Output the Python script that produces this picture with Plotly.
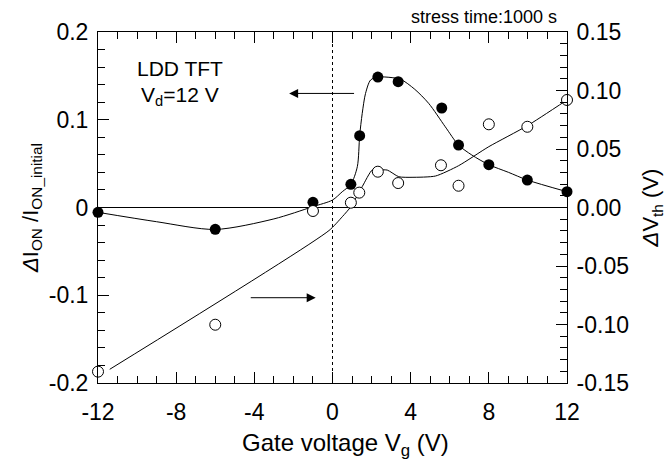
import plotly.graph_objects as go

# Measured data (filled: left axis dI_ON/I_ON_initial, open: right axis dVth)
vg_filled = [-12, -6, -1.0, 0.94, 1.39, 2.32, 3.36, 5.59, 6.45, 8.0, 9.97, 12]
di_on = [-0.0055, -0.0249, 0.0059, 0.0264, 0.0818, 0.1487, 0.1434, 0.1134, 0.0712, 0.0488, 0.0313, 0.018]

vg_open = [-12, -6, -1.0, 0.94, 1.37, 2.32, 3.36, 5.55, 6.45, 8.0, 9.97, 12]
dvth = [-0.1403, -0.1002, -0.003, 0.0041, 0.0127, 0.0306, 0.0209, 0.0361, 0.0186, 0.0711, 0.069, 0.0919]

# Fitted guide curves
fit_filled_x = [-12, -9, -6, -3, -1, 0, 0.5, 0.94, 1.27, 1.39, 1.52, 1.69, 1.95, 2.32, 3.05, 3.5, 4.21, 4.92, 5.77, 6.45, 7.13, 8.0, 9.0, 9.97, 12]
fit_filled_y = [-0.0055, -0.0162, -0.025, -0.013, 0.001, 0.0085, 0.018, 0.0264, 0.0465, 0.0818, 0.107, 0.130, 0.1453, 0.1487, 0.148, 0.146, 0.1347, 0.1187, 0.092, 0.0712, 0.0598, 0.0488, 0.0401, 0.0313, 0.018]

fit_open_x = [-11.4, -0.18, 0.5, 0.94, 1.52, 2.03, 2.32, 2.8, 3.39, 4.07, 5.27, 6.45, 8.0, 9.97, 12]
fit_open_y = [-0.1383, -0.0197, -0.0079, 0.0007, 0.0178, 0.032, 0.032, 0.032, 0.0263, 0.0258, 0.0269, 0.0357, 0.052, 0.0699, 0.0919]

x_ticks = [-12, -8, -4, 0, 4, 8, 12]
x_ticktext = ["-12", "-8", "-4", "0", "4", "8", "12"]
y_ticks = [-0.2, -0.1, 0, 0.1, 0.2]
y_ticktext = ["-0.2", "-0.1", "0", "0.1", "0.2"]
y2_ticks = [-0.15, -0.10, -0.05, 0.00, 0.05, 0.10, 0.15]
y2_ticktext = ["-0.15", "-0.10", "-0.05", "0.00", "0.05", "0.10", "0.15"]

FONT = "Liberation Sans, Arial, sans-serif"
TICKF = 23

fig = go.Figure()

fig.add_trace(go.Scatter(x=fit_filled_x, y=fit_filled_y, mode="lines",
                         line=dict(color="black", width=1, shape="spline", smoothing=0.8),
                         showlegend=False, hoverinfo="skip"))
fig.add_trace(go.Scatter(x=fit_open_x, y=fit_open_y, mode="lines", yaxis="y2",
                         line=dict(color="black", width=1, shape="spline", smoothing=0.6),
                         showlegend=False, hoverinfo="skip"))
fig.add_trace(go.Scatter(x=vg_filled, y=di_on, mode="markers", cliponaxis=False,
                         marker=dict(symbol="circle", size=11, color="black"),
                         showlegend=False))
fig.add_trace(go.Scatter(x=vg_open, y=dvth, mode="markers", yaxis="y2", cliponaxis=False,
                         marker=dict(symbol="circle", size=11, color="white",
                                     line=dict(color="black", width=1)),
                         showlegend=False))
# invisible trace to activate the top mirror axis
fig.add_trace(go.Scatter(x=[-12, 12], y=[0, 0], xaxis="x2", mode="markers",
                         marker=dict(opacity=0), showlegend=False, hoverinfo="skip"))

# zero line and vertical dotted line at Vg=0
fig.add_shape(type="line", xref="paper", x0=0, x1=1, yref="y", y0=0, y1=0,
              line=dict(color="black", width=1.2), layer="below")
fig.add_shape(type="line", xref="x", x0=0, x1=0, yref="paper", y0=0, y1=1,
              line=dict(color="black", width=1, dash="dot"), layer="below")

# arrows
fig.add_annotation(x=-2.22, y=0.130, ax=1.18, ay=0.130, xref="x", yref="y",
                   axref="x", ayref="y", showarrow=True, arrowhead=2, arrowsize=1.8,
                   arrowwidth=1, arrowcolor="black", text="")
fig.add_annotation(x=-0.86, y=-0.1028, ax=-4.26, ay=-0.1028, xref="x", yref="y",
                   axref="x", ayref="y", showarrow=True, arrowhead=2, arrowsize=1.8,
                   arrowwidth=1, arrowcolor="black", text="")

fig.add_annotation(x=-7.8, y=0.1585, xref="x", yref="y", text="LDD TFT",
                   showarrow=False, font=dict(size=21, color="black", family=FONT))
fig.add_annotation(x=-7.8, y=0.1275, xref="x", yref="y", text="V<sub>d</sub>=12 V",
                   showarrow=False, font=dict(size=21, color="black", family=FONT))
fig.add_annotation(x=1.0, y=1.0, xref="paper", yref="paper", xanchor="right",
                   yanchor="bottom", yshift=3, xshift=-8, text="stress time:1000 s",
                   showarrow=False, font=dict(size=18, color="black", family=FONT))
# x-axis title
fig.add_annotation(x=0.527, y=-0.174, xref="paper", yref="paper", xanchor="center",
                   yanchor="middle", text="Gate voltage V<sub>g</sub> (V)",
                   showarrow=False, font=dict(size=24, color="black", family=FONT))

fig.update_layout(
    width=670, height=468,
    margin=dict(l=98, r=101, t=32, b=85),
    plot_bgcolor="white", paper_bgcolor="white",
    font=dict(family=FONT, color="black", size=TICKF),
    xaxis=dict(range=[-12, 12], tickvals=x_ticks, ticktext=x_ticktext, ticks="inside", ticklen=11,
               tickwidth=1, tickcolor="black", showline=True, linecolor="black",
               linewidth=1, showgrid=False, zeroline=False,
               ticklabelstandoff=8,
               minor=dict(dtick=1, ticks="inside", ticklen=7, tickcolor="black", showgrid=False)),
    xaxis2=dict(range=[-12, 12], overlaying="x", side="top", tickvals=x_ticks,
                ticks="inside", ticklen=11, tickwidth=1, tickcolor="black",
                showline=True, linecolor="black", linewidth=1, showgrid=False,
                zeroline=False, showticklabels=False,
                minor=dict(dtick=1, ticks="inside", ticklen=7, tickcolor="black", showgrid=False)),
    yaxis=dict(range=[-0.2, 0.2], tickvals=y_ticks, ticktext=y_ticktext,
               ticks="inside", ticklen=11, tickwidth=1, tickcolor="black",
               showline=True, linecolor="black", linewidth=1, showgrid=False,
               zeroline=False, ticklabelstandoff=4,
               minor=dict(dtick=0.02, ticks="inside", ticklen=7, tickcolor="black", showgrid=False),
               title=dict(text="<i>Δ</i>I<sub>ON</sub> /I<sub>ON_initial</sub>", standoff=4,
                          font=dict(size=22))),
    yaxis2=dict(range=[-0.15, 0.15], overlaying="y", side="right",
                tickvals=y2_ticks, ticktext=y2_ticktext,
                ticks="inside", ticklen=11, tickwidth=1, tickcolor="black",
                showline=True, linecolor="black", linewidth=1, showgrid=False,
                zeroline=False, ticklabelstandoff=4,
                minor=dict(dtick=0.01, ticks="inside", ticklen=7, tickcolor="black", showgrid=False),
                title=dict(text="<i>Δ</i>V<sub>th</sub> (V)", standoff=14,
                           font=dict(size=22))),
)

fig.write_html("out.html")
